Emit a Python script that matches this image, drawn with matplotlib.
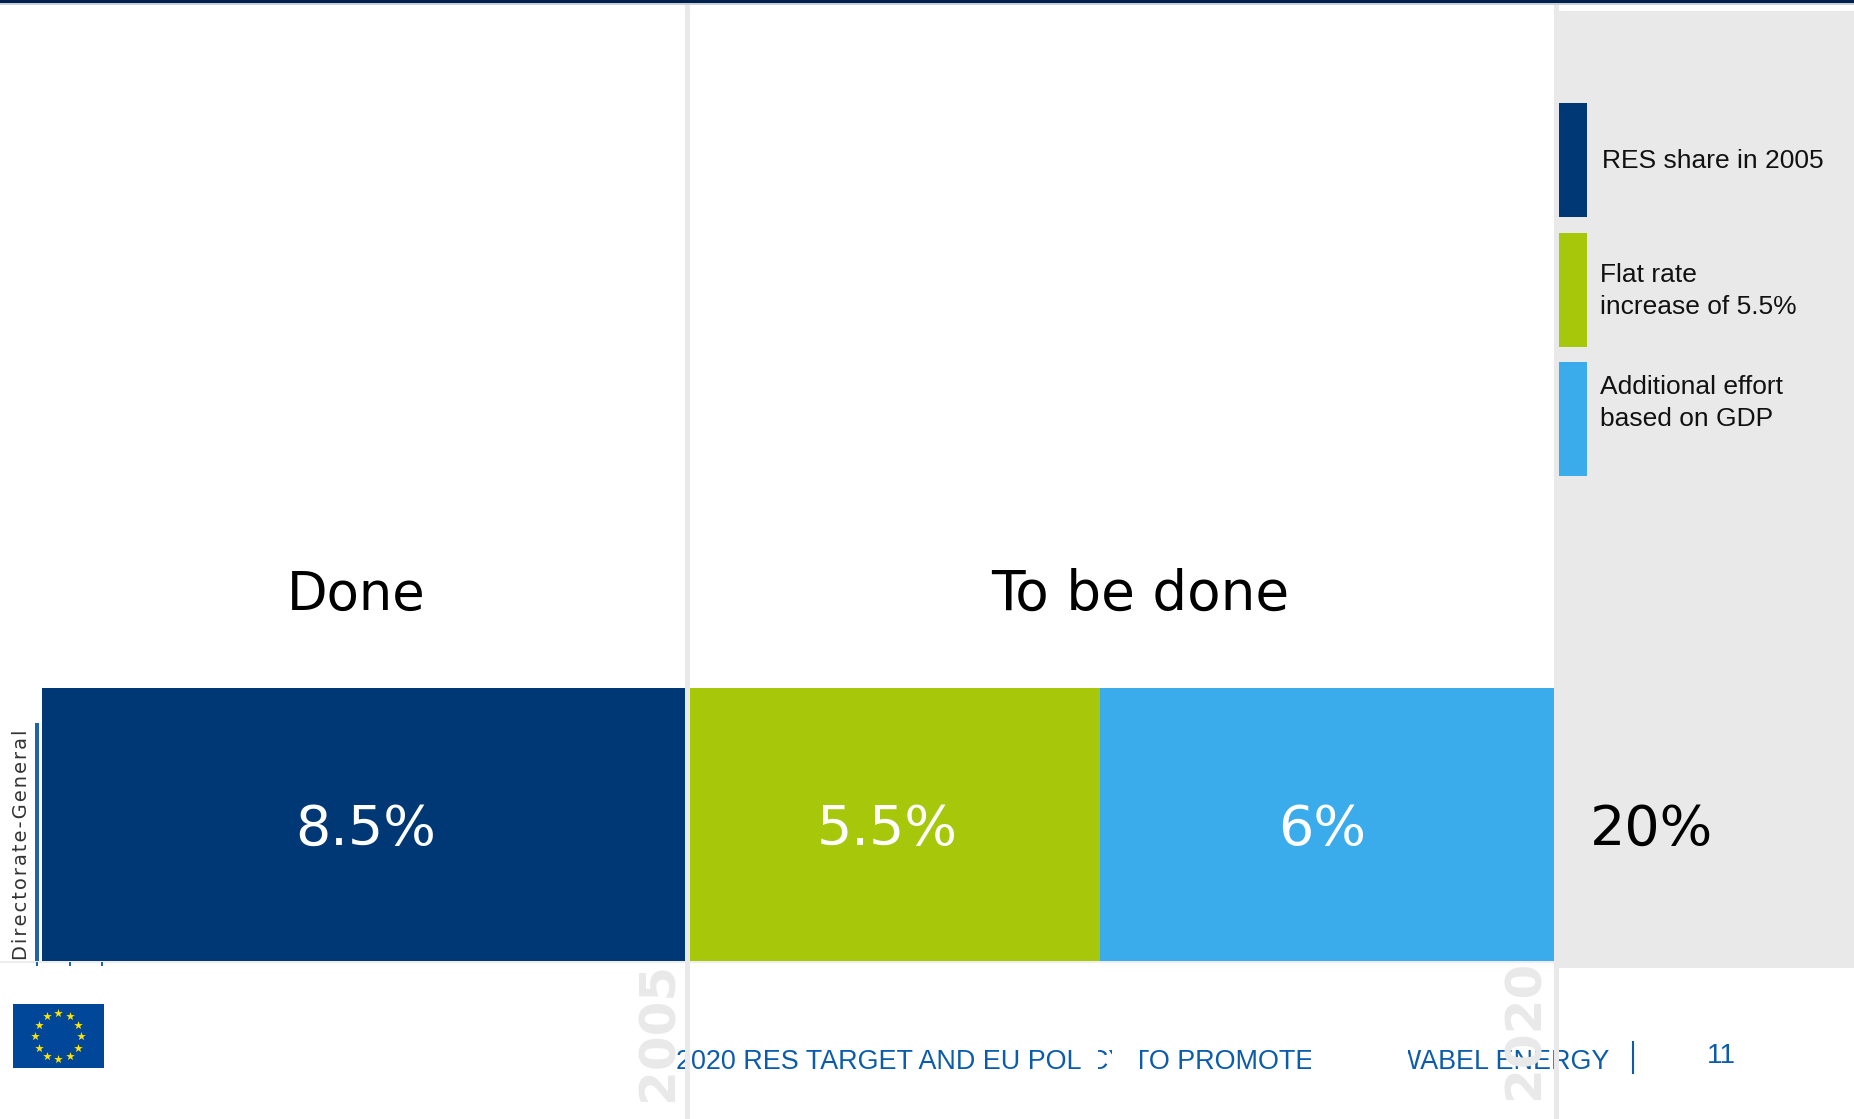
import numpy as np
import matplotlib
matplotlib.use("Agg")
import matplotlib.pyplot as plt
from matplotlib.patches import Rectangle

W, H = 1854, 1119

# Renewable energy share: achieved so far and still required for the 2020 target
segments = ["RES share in 2005", "Flat rate", "Additional effort"]
values = [8.5, 5.5, 6.0]
value_labels = ["8.5%", "5.5%", "6%"]
total_label = "20%"
bar_colors = ["#003876", "#A6C70A", "#3AABEB"]
legend_labels = ["RES share in 2005", "Flat rate\nincrease of 5.5%", "Additional effort\nbased on GDP"]
group_labels = ["Done", "To be done"]
year_labels = ["2005", "2020"]
footer_title = "2020 RES TARGET AND EU POLICY TO PROMOTE RENEWABEL ENERGY"
page_number = "11"
sidebar_label = "\u200a".join("Directorate-General")

GREY = "#E9E9E9"
FOOTER_BLUE = "#0B5CAB"

fig = plt.figure(figsize=(W / 100, H / 100), dpi=100, facecolor="white")


def pixel_axes(z):
    ax = fig.add_axes([0, 0, 1, 1], zorder=z)
    ax.set_xlim(0, W)
    ax.set_ylim(H, 0)
    ax.axis("off")
    return ax


# Background layer: grey side panel, header rule, footer text and its cut-outs
back = pixel_axes(0)
back.add_patch(Rectangle((1554, 11), 300, 957, fc=GREY, ec="none"))
back.add_patch(Rectangle((0, 0), W, 3, fc="#001F4D", ec="none"))
back.add_patch(Rectangle((0, 3), W, 2, fc="#C9CFD8", ec="none"))
back.plot([0, 1554], [962, 962], color="#EDEDED", lw=1.5)

back.text(676, 1062, footer_title, color=FOOTER_BLUE, fontsize=19.35,
          family="Liberation Sans", ha="left", va="center", zorder=3)
for x0, x1 in [(1083, 1098), (1112, 1140), (1311, 1408)]:
    back.add_patch(Rectangle((x0, 1040), x1 - x0, 42, fc="white", ec="none", zorder=4))
for x, y, label in zip([659, 1525], [1031, 1029], year_labels):
    back.text(x, y, label, color=GREY, fontsize=36, weight="bold",
              family="DejaVu Sans", rotation=90, ha="center", va="center", zorder=5)

# Stacked bar, drawn on a value axis running from 0 to 20 %
bar_ax = fig.add_axes([42 / W, 1 - 961 / H, (1554 - 42) / W, (961 - 688) / H], zorder=1)
bar_ax.set_xlim(0, 20)
bar_ax.set_ylim(0, 1)
bar_ax.axis("off")
left = 0.0
for value, color in zip(values, bar_colors):
    bar_ax.barh(0.5, value, height=1, left=left, color=color, edgecolor="none")
    left += value

# Top layer: separators, labels, legend and logo
top = pixel_axes(2)
top.add_patch(Rectangle((685, 5), 5, H - 5, fc=GREY, ec="none"))
top.add_patch(Rectangle((1554, 5), 5, H - 5, fc=GREY, ec="none"))

for x, size, label in zip([356, 1140], [38, 39.5], group_labels):
    top.text(x, 595, label, color="black", fontsize=size, family="DejaVu Sans",
             ha="center", va="center")
for x, label in zip([366, 887, 1322], value_labels):
    top.text(x, 830, label, color="white", fontsize=40, family="DejaVu Sans",
             ha="center", va="center")
top.text(1652, 830, total_label, color="black", fontsize=40, family="DejaVu Sans",
         ha="center", va="center")

for y0, color, label, tx, dy in zip([103, 233, 362], bar_colors, legend_labels,
                                    [1602, 1600, 1600], [58, 58, 41]):
    top.add_patch(Rectangle((1559, y0), 28, 114, fc=color, ec="none"))
    top.text(tx, y0 + dy, label, color="#111111", fontsize=19,
             family="Liberation Sans", ha="left", va="center", linespacing=1.4)

# Left sidebar with its rule and tick stubs
top.add_patch(Rectangle((35, 723), 4, 238, fc="#1F63A8", ec="none"))
for x in [37, 70, 102]:
    top.add_patch(Rectangle((x - 1, 962), 2, 4, fc="#1F63A8", ec="none"))
top.text(22, 960, sidebar_label, color="#333333", fontsize=14, family="DejaVu Sans",
         rotation=90, ha="center", va="bottom")

# EU flag
top.add_patch(Rectangle((13, 1004), 91, 64, fc="#004699", ec="none"))
angles = np.deg2rad(np.arange(0, 360, 30))
top.scatter(58.5 + 23 * np.cos(angles), 1036 + 23 * np.sin(angles), marker="*", s=42,
            color="#FFE600", linewidths=0)

# Page number and its divider
top.plot([1633, 1633], [1042, 1073], color=FOOTER_BLUE, lw=1.5)
top.text(1721, 1056, page_number, color=FOOTER_BLUE, fontsize=20,
         family="Liberation Sans", ha="center", va="center")

fig.savefig("out.png", dpi=100, facecolor="white")
